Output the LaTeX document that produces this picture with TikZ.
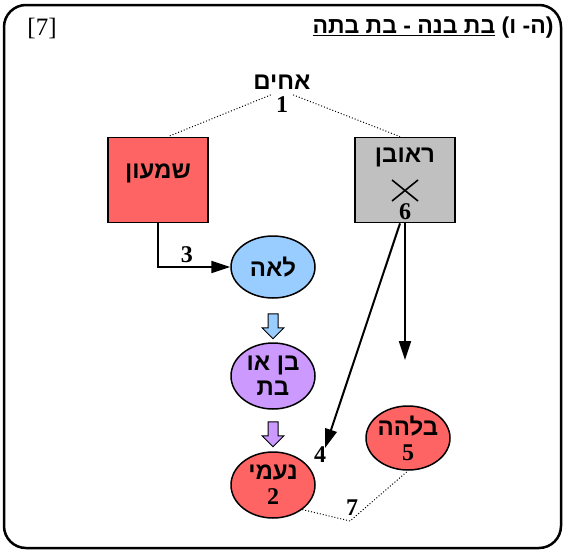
\documentclass[tikz,border=0pt]{standalone}
\usepackage{fontspec}
\setmainfont{Liberation Serif}
\newfontfamily\hebfont[Script=Hebrew]{Liberation Sans}
\TeXXeTstate=1
\usetikzlibrary{arrows.meta,positioning,shapes.geometric}
\newcommand{\heb}[1]{{\hebfont\beginR #1\endR}}
\definecolor{redfill}{HTML}{FF6464}
\definecolor{grayfill}{HTML}{C0C0C0}
\definecolor{bluefill}{HTML}{99CCFF}
\definecolor{purplefill}{HTML}{CC99FF}

\begin{document}
\begin{tikzpicture}[x=1pt,y=-1pt,
  txt/.style={font=\fontsize{24}{25}\selectfont\bfseries},
  box/.style={draw,line width=1.8pt,minimum width=100pt,minimum height=85pt,txt},
  oval/.style={ellipse,draw,line width=1.5pt,minimum width=84pt,minimum height=64pt,
    inner sep=-5pt,align=center,txt},
  arr/.style={line width=2pt,-{Triangle[length=19pt,width=12pt]}},
  dots/.style={dotted,line width=1pt},
  fatarrow/.pic={\draw[line width=1pt,fill=#1] (-5,0) -- (5,0) -- (5,14) -- (11,14)
    -- (0,25) -- (-11,14) -- (-5,14) -- cycle;}]
  \useasboundingbox (0,0) rectangle (565,552);
  % frame and heading
  \draw[line width=2.5pt,rounded corners=22pt] (4,5) rectangle (561,548);
  \node[font=\fontsize{25}{28}\selectfont] (tag) at (42,28) {[7]};
  \node[font=\fontsize{23}{26}\selectfont\bfseries,anchor=east] (title) at (557,28)
    {\heb{(ה- ו) \underline{\beginR בת בנה - בת בתה\endR}}};
  % brothers
  \node[txt,inner sep=0pt] (kin) at (282,82) {\heb{אחים}};
  \node[txt,inner sep=0pt] (n1) at (282,105) {1};
  \node[box,fill=redfill] (shimon) at (158,180) {};
  \node[txt] (sname) at ([yshift=7pt]shimon.center) {\heb{שמעון}};
  \node[box,fill=grayfill] (reuven) at (405,180) {};
  \node[txt] (rname) at ([yshift=-21pt]reuven.north) {\heb{ראובן}};
  \node[txt] (r6) at ([yshift=12pt]reuven.south) {6};
  \draw[line width=1.6pt] ([shift={(-13,0)}]reuven.center) -- ([shift={(13,21)}]reuven.center);
  \draw[line width=1.6pt] ([shift={(-13,21)}]reuven.center) -- ([shift={(13,0)}]reuven.center);
  \draw[dots] ([shift={(-5,-2)}]n1.north west) -- ([xshift=10pt]shimon.north);
  \draw[dots] ([shift={(5,-2)}]n1.north east) -- ([xshift=-5pt]reuven.north);
  % women and child
  \node[oval,fill=bluefill,minimum height=62pt] (leah) at (273,267) {\heb{לאה}};
  \node[oval,fill=purplefill,minimum height=66pt] (child) at (273,376) {\heb{בן או}\\\heb{בת}};
  \node[oval,fill=redfill,minimum height=66pt] (naomi) at (273,485) {\heb{נעמי}\\2};
  \node[oval,fill=redfill,minimum height=64pt] (bilha) at (408,438) {\heb{בלהה}\\5};
  \pic at ([yshift=-15pt]leah.south) {fatarrow=bluefill};
  \pic at ([yshift=-12pt]child.south) {fatarrow=purplefill};
  % connectors
  \draw[arr] (shimon.south) |- (leah.west) node[pos=0.7,above,txt] (l3) {3};
  \coordinate (tip4) at (325,448);
  \coordinate (tip5) at (405,360);
  \draw[arr] ([xshift=-5pt]reuven.south) -- (tip4);
  \node[txt] (l4) at ([shift={(-5pt,-7pt)}]tip4) {4};
  \draw[arr] (reuven.south) -- (tip5);
  \coordinate (mid7) at (350,521);
  \draw[dots] (naomi.-40) -- (mid7) -- (bilha.south);
  \node[txt,above=2pt of mid7,xshift=2pt] (l7) {7};
\end{tikzpicture}
\end{document}
